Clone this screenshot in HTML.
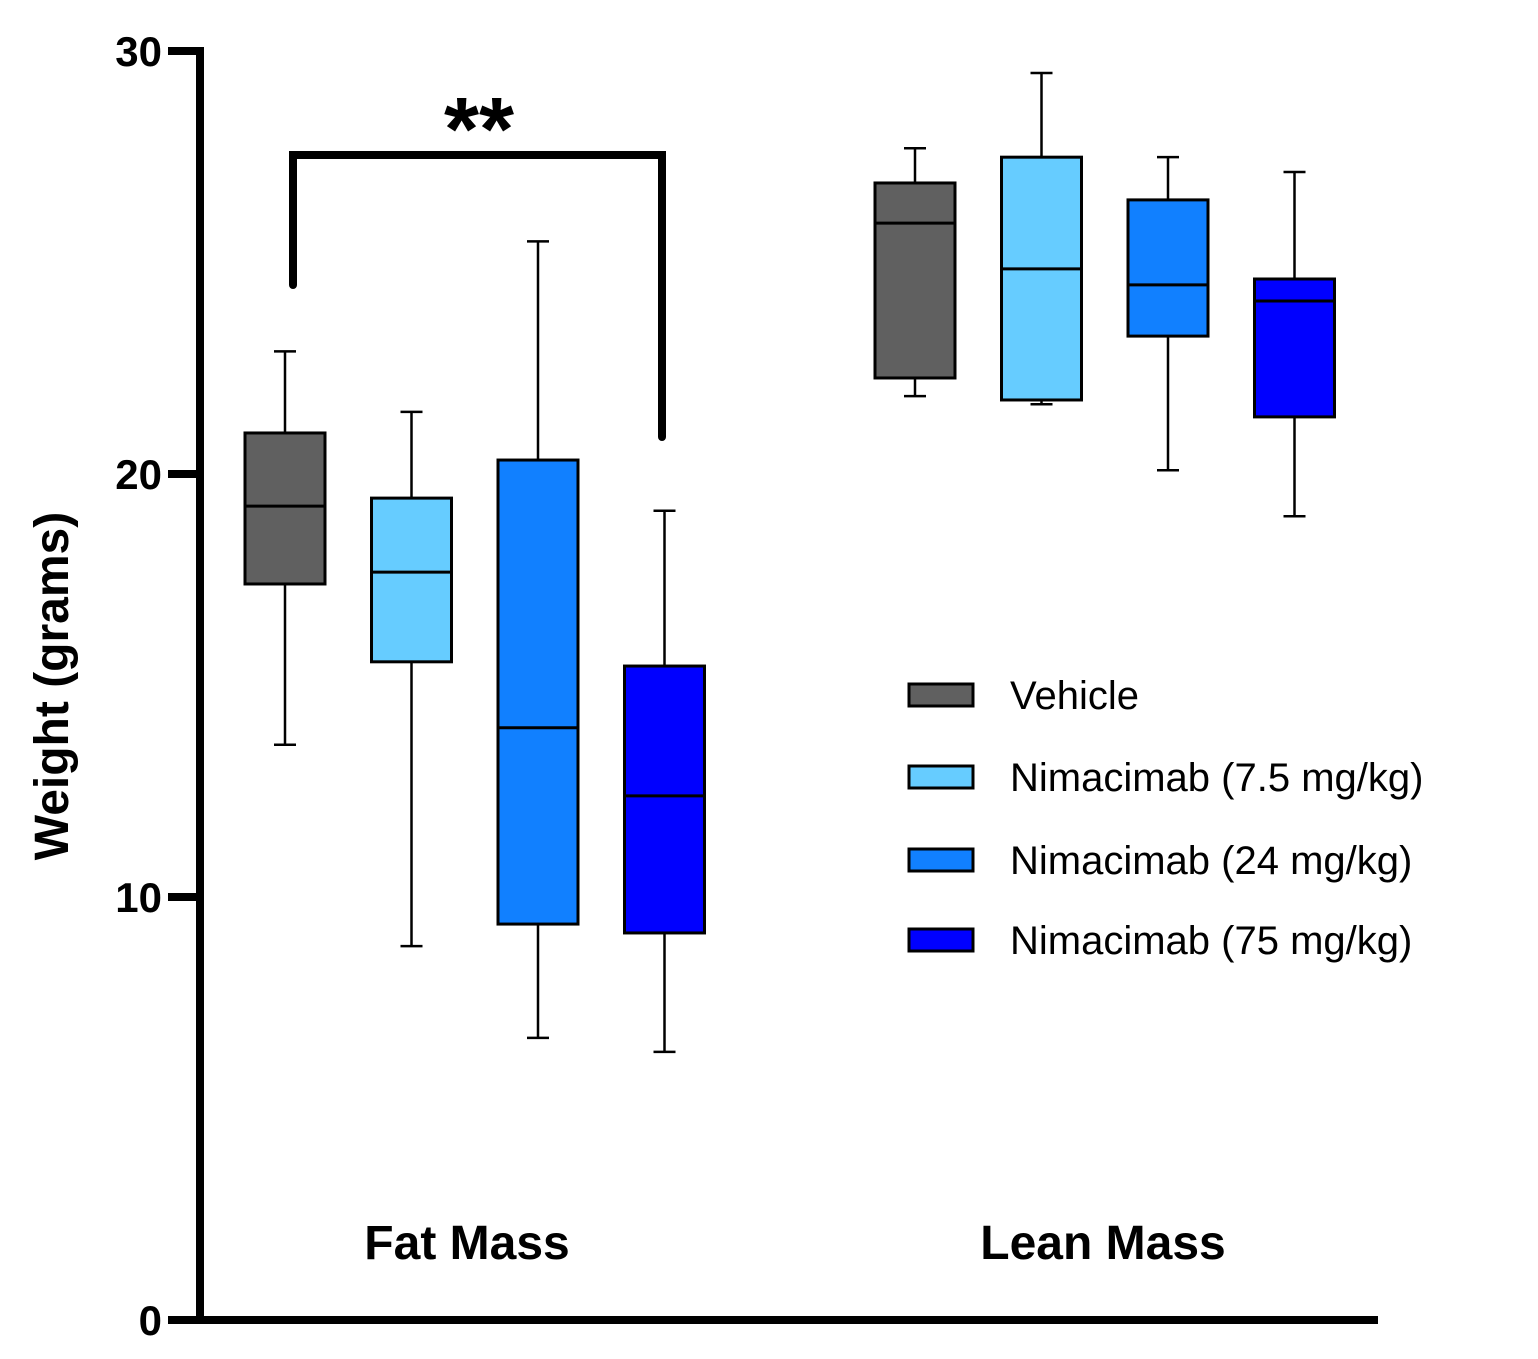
<!DOCTYPE html>
<html><head><meta charset="utf-8"><style>
html,body{margin:0;padding:0;background:#fff;}
svg{display:block;font-family:"Liberation Sans",Arial,sans-serif;}
</style></head><body>
<svg id="chart" width="1538" height="1359" viewBox="0 0 1538 1359" xmlns="http://www.w3.org/2000/svg"></svg>
<script>
const groupNames = ["Vehicle","Nimacimab (7.5 mg/kg)","Nimacimab (24 mg/kg)","Nimacimab (75 mg/kg)"];
const groupColors = ["#606060","#66ccff","#1180ff","#0000ff"];
const categories = ["Fat Mass","Lean Mass"];
const yTicks = [0,10,20,30];
// [min, q1, median, q3, max] per category per group
const fatMass = [
  [13.6,17.4,19.24,20.97,22.9],
  [8.84,15.56,17.68,19.43,21.47],
  [6.67,9.36,14.0,20.33,25.5],
  [6.34,9.15,12.39,15.46,19.13]
];
const leanMass = [
  [21.84,22.27,25.93,26.88,27.7],
  [21.65,21.75,24.85,27.49,29.48],
  [20.09,23.26,24.47,26.48,27.49],
  [19.0,21.35,24.09,24.61,27.14]
];
const seriesByCategory = [fatMass, leanMass];

const NS="http://www.w3.org/2000/svg";
const svg=document.getElementById('chart');
function y(v){return 1320 - v*(1320-51)/30;}
const catCenters=[285,915], step=126.5, boxW=80;
function xPos(c,g){return catCenters[c]+g*step;}
function mk(tag,attrs,parent){const e=document.createElementNS(NS,tag);for(const k in attrs)e.setAttribute(k,attrs[k]);(parent||svg).appendChild(e);return e;}

let e=mk('line',{x1:200,y1:47,x2:200,y2:1324,stroke:'#000','stroke-width':8});


e=mk('line',{x1:168,y1:1320,x2:1378,y2:1320,stroke:'#000','stroke-width':8});


yTicks.forEach(t=>{
  let l=mk('line',{x1:168,y1:y(t),x2:200,y2:y(t),stroke:'#000','stroke-width':8});
  
  
  let tx=mk('text',{x:162,y:y(t)+15,'text-anchor':'end','font-size':42,'font-weight':'bold'});
  tx.textContent=t;
  
  
});
e=mk('text',{transform:'translate(68,686) rotate(-90)','text-anchor':'middle','font-size':48,'font-weight':'bold'});
e.textContent='Weight (grams)';



seriesByCategory.forEach((series,c)=>{
  series.forEach((d,g)=>{
    const cx=xPos(c,g);
    const grp=mk('g',{});
    
    
    mk('line',{x1:cx,y1:y(d[4]),x2:cx,y2:y(d[3]),stroke:'#000','stroke-width':2.5},grp);
    mk('line',{x1:cx,y1:y(d[1]),x2:cx,y2:y(d[0]),stroke:'#000','stroke-width':2.5},grp);
    mk('line',{x1:cx-11,y1:y(d[4]),x2:cx+11,y2:y(d[4]),stroke:'#000','stroke-width':2.5},grp);
    mk('line',{x1:cx-11,y1:y(d[0]),x2:cx+11,y2:y(d[0]),stroke:'#000','stroke-width':2.5},grp);
    mk('rect',{x:cx-boxW/2,y:y(d[3]),width:boxW,height:y(d[1])-y(d[3]),fill:groupColors[g],stroke:'#000','stroke-width':3},grp);
    mk('line',{x1:cx-boxW/2,y1:y(d[2]),x2:cx+boxW/2,y2:y(d[2]),stroke:'#000','stroke-width':3},grp);
  });
  let t=mk('text',{x:[467,1103][c],y:1259,'text-anchor':'middle','font-size':48,'font-weight':'bold'});
  t.textContent=categories[c];
  
  
});

e=mk('path',{d:'M293 285 V155 H662 V437',fill:'none',stroke:'#000','stroke-width':8,'stroke-linecap':'round','stroke-linejoin':'miter'});


e=mk('text',{x:479,y:160,'text-anchor':'middle','font-size':90,'font-weight':'bold'});
e.textContent='**';



const legY=[695,777,860,940];
groupNames.forEach((n,g)=>{
  const lg=mk('g',{});
  
  
  mk('rect',{x:909,y:legY[g]-11,width:64,height:22,fill:groupColors[g],stroke:'#000','stroke-width':3},lg);
  const t=mk('text',{x:1010,y:legY[g]+14,'font-size':40},lg);
  t.textContent=n;
});
</script>
</body></html>
